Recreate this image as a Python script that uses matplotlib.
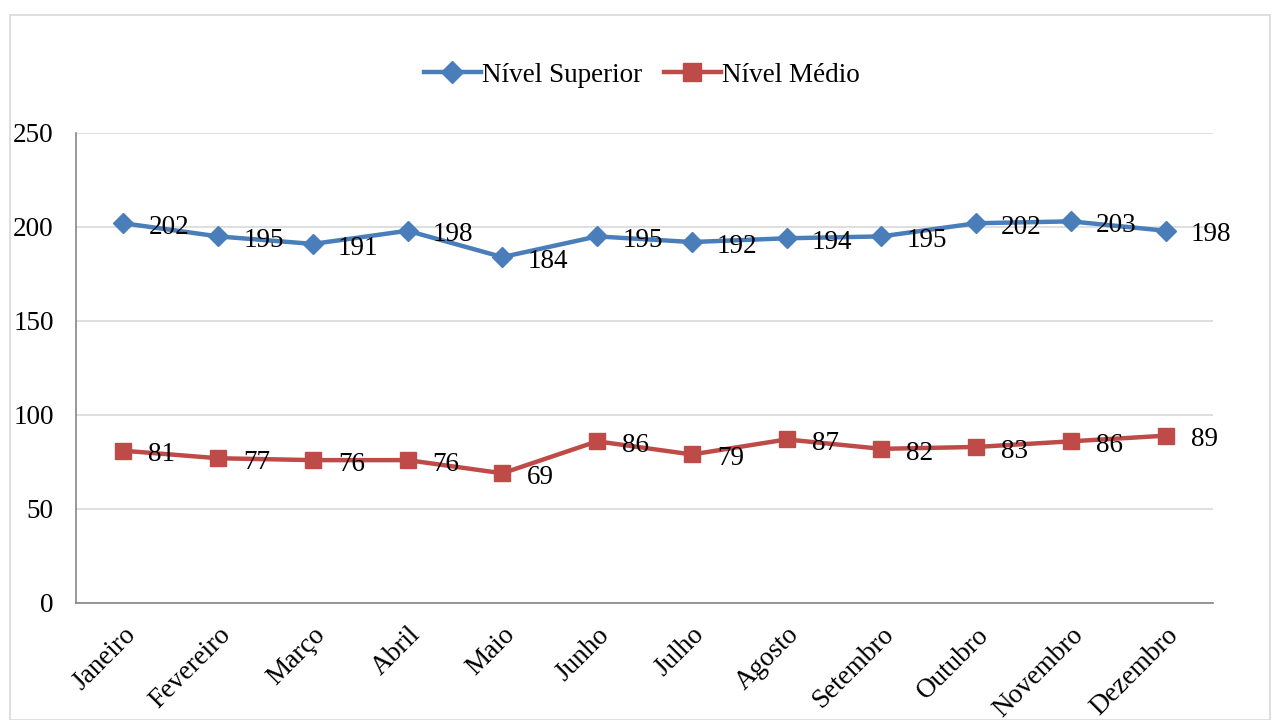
import matplotlib
matplotlib.use("Agg")
import matplotlib.pyplot as plt
from matplotlib.patches import Rectangle

months = ["Janeiro", "Fevereiro", "Março", "Abril", "Maio", "Junho", "Julho",
          "Agosto", "Setembro", "Outubro", "Novembro", "Dezembro"]
superior = [202, 195, 191, 198, 184, 195, 192, 194, 195, 202, 203, 198]
medio = [81, 77, 76, 76, 69, 86, 79, 87, 82, 83, 86, 89]
yticks = [0, 50, 100, 150, 200, 250]

plt.rcParams['font.family'] = ['Liberation Serif', 'DejaVu Serif']
FS = 19.5

fig = plt.figure(figsize=(12.74, 7.2), dpi=100)
ax = fig.add_axes([76/1274, 1-603/720, (1213-76)/1274, (603-133)/720])

fig.patches.append(Rectangle((10/1274, 0), (1270-10)/1274, 1-15/720,
                             transform=fig.transFigure, fill=False,
                             edgecolor='#d9d9d9', lw=1.2))

x = list(range(len(months)))
blue = '#4a7ebb'
red = '#be4b48'
ax.plot(x, superior, color=blue, lw=3.2, marker='D', ms=10, label='Nível Superior',
        solid_joinstyle='round', zorder=3)
ax.plot(x, medio, color=red, lw=3.2, marker='s', ms=12, label='Nível Médio',
        solid_joinstyle='round', zorder=3)

for xi, v in zip(x, superior):
    ax.annotate(str(v), (xi, v), xytext=(18, -3), textcoords='offset points',
                ha='left', va='center', fontsize=FS, zorder=4)
for xi, v in zip(x, medio):
    ax.annotate(str(v), (xi, v), xytext=(18, -3), textcoords='offset points',
                ha='left', va='center', fontsize=FS, zorder=4)

ax.set_xlim(-0.5, len(months) - 0.5)
ax.set_ylim(0, 250)
ax.set_yticks(yticks)
ax.set_yticklabels([str(t) for t in yticks], fontsize=FS)
ax.set_xticks(x)
ax.set_xticklabels(months, fontsize=FS, rotation=45, ha='right',
                   rotation_mode='anchor')
ax.tick_params(axis='y', length=0, pad=16)
ax.tick_params(axis='x', length=0, pad=14)
ax.grid(axis='y', color='#d9d9d9', lw=1.2)
ax.set_axisbelow(True)
for s in ['top', 'right']:
    ax.spines[s].set_visible(False)
for s in ['left', 'bottom']:
    ax.spines[s].set_color('#868686')
    ax.spines[s].set_linewidth(1.2)

fig.legend(loc='center', bbox_to_anchor=(642/1274, 1-75/720), ncol=2,
           frameon=False, fontsize=FS, handlelength=2.1, columnspacing=0.8,
           handletextpad=0.05, markerscale=1.1)

fig.savefig('out.png', dpi=100)
